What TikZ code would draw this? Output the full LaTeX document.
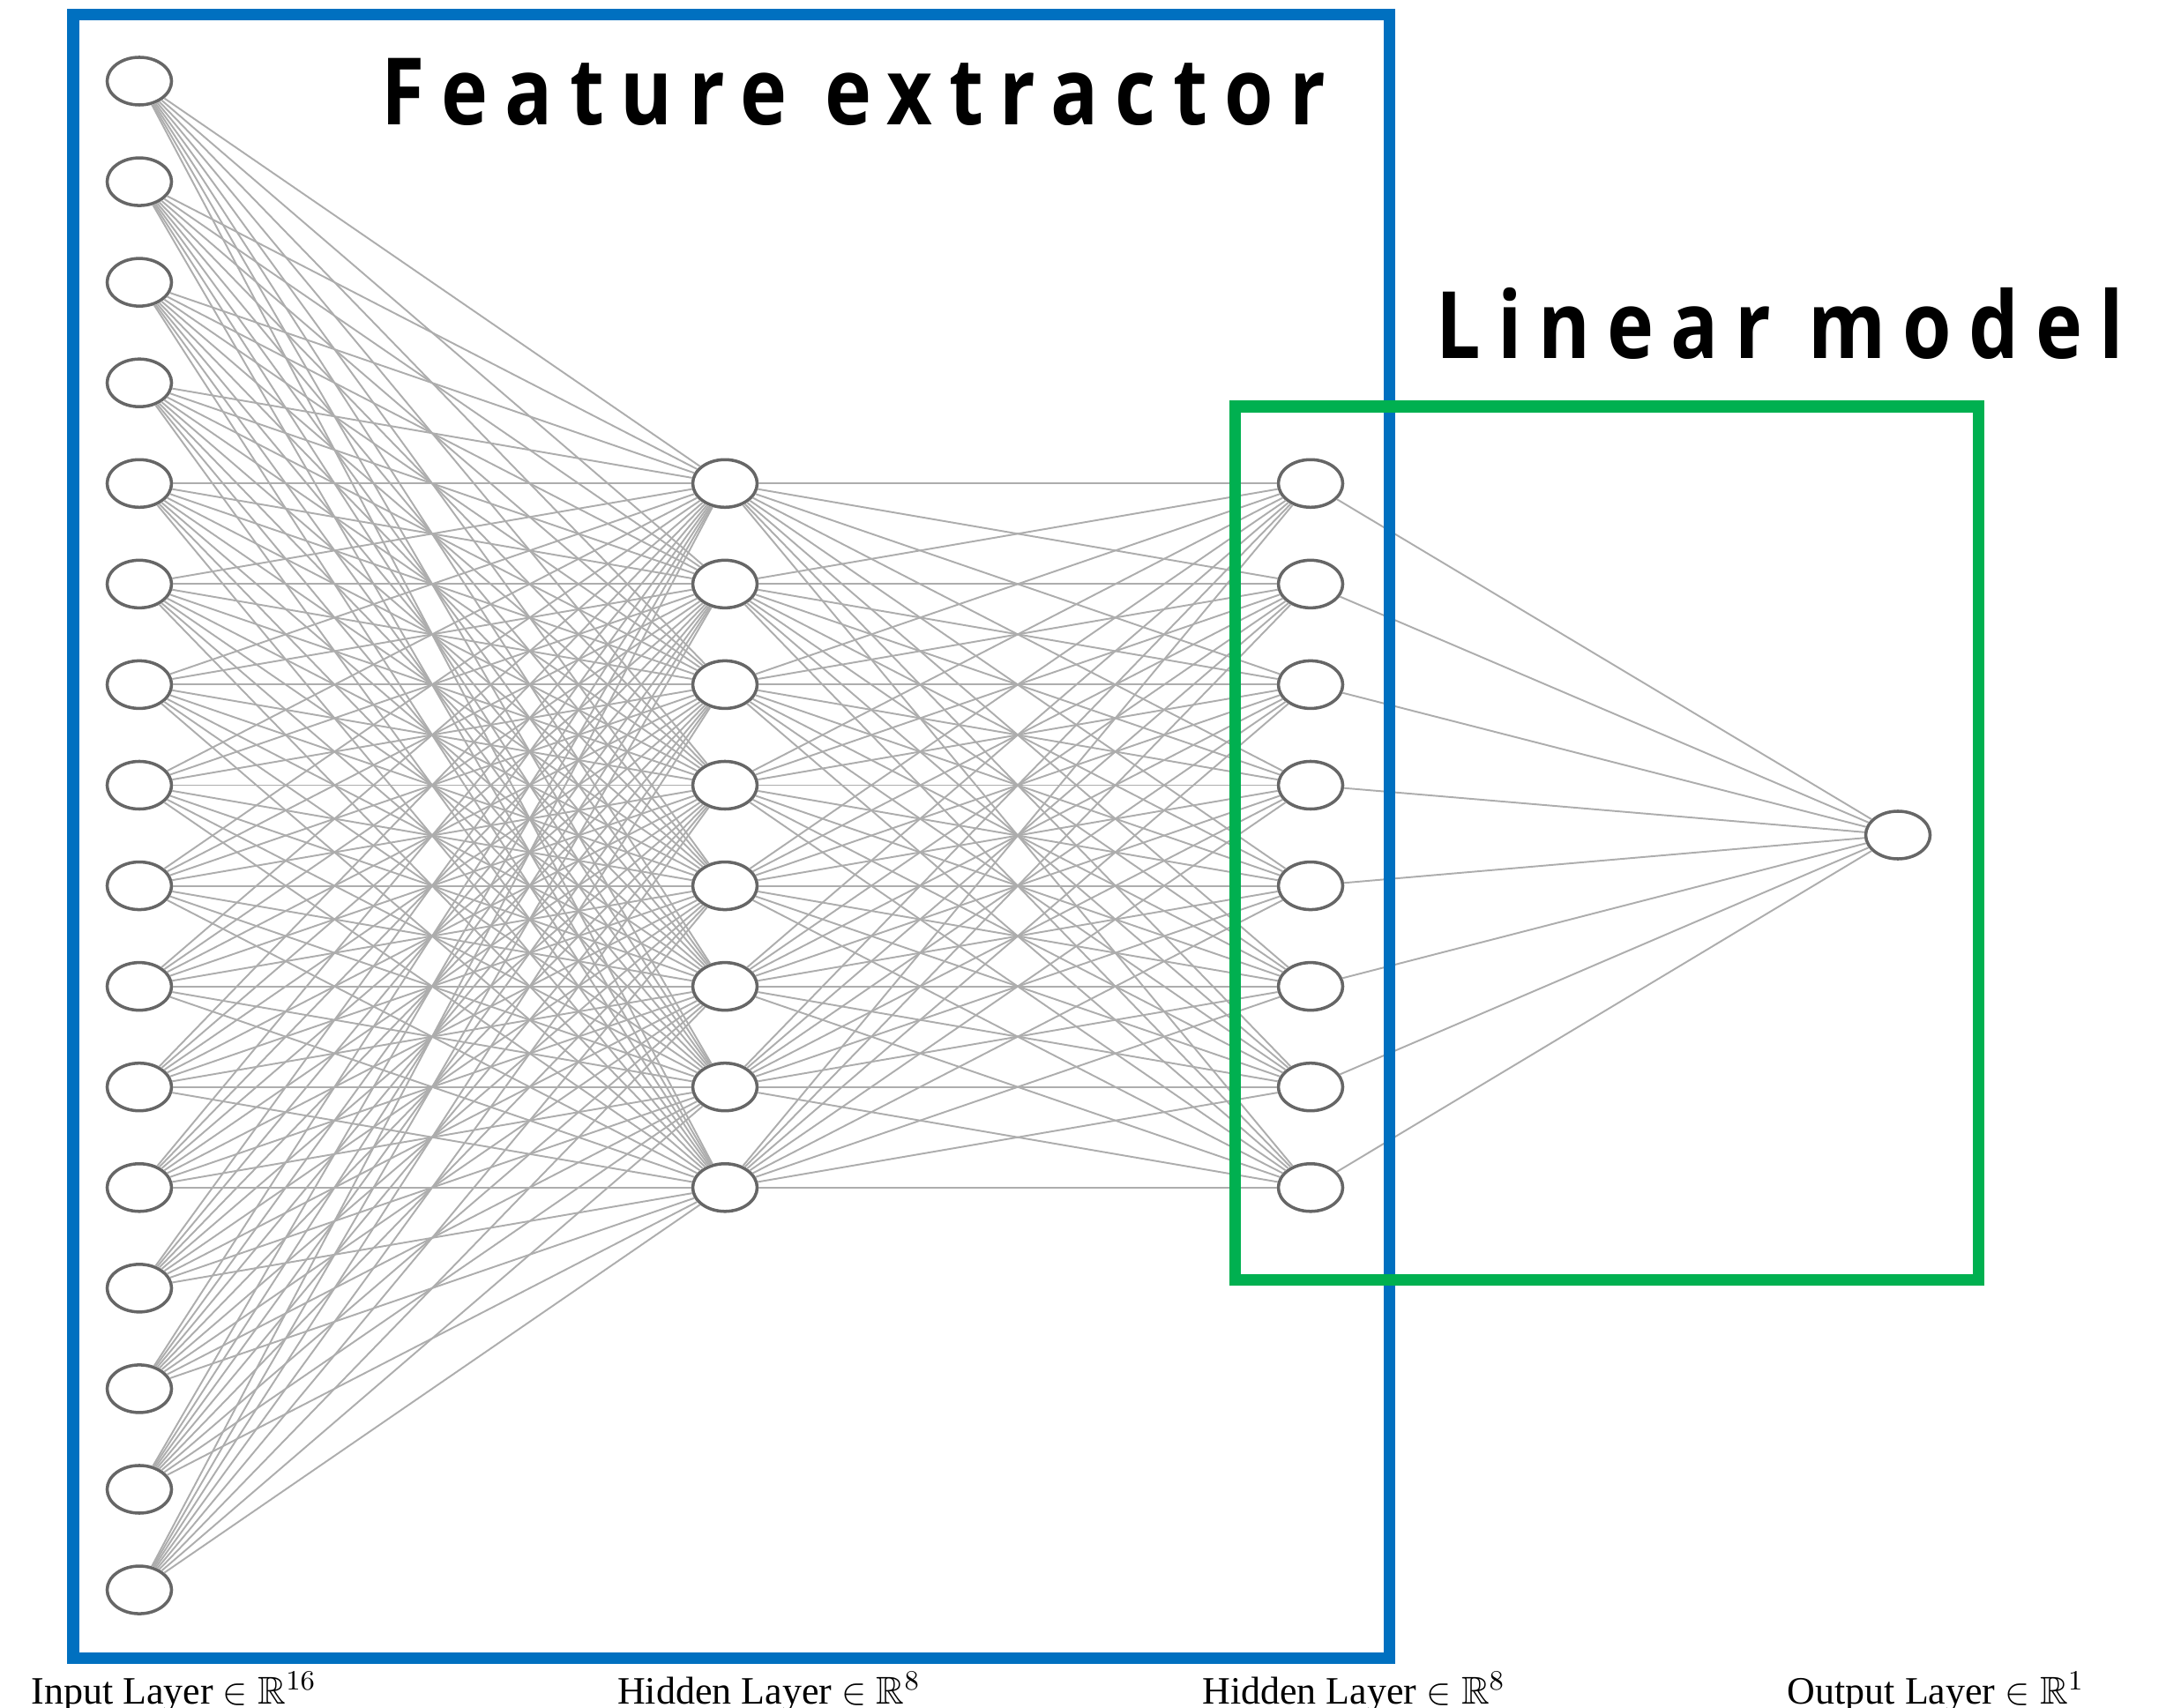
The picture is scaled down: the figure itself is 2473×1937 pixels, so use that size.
\documentclass[tikz,border=0pt]{standalone}
\usepackage{amsmath,amssymb}
\usepackage{fontspec}
\setmainfont{Liberation Serif}
\newfontfamily\titlefont[LetterSpace=18, FakeStretch=0.85]{Open Sans}
\usepackage{xcolor}
\usepackage{tikz}
\usetikzlibrary{shapes.geometric}

\definecolor{featblue}{HTML}{0070C0}
\definecolor{lingreen}{HTML}{00B050}

\tikzset{
  neuron/.style={draw=black!60, line width=1pt, ellipse, fill=white,
    minimum width=0.73cm, minimum height=0.54cm, inner sep=0pt},
  synapse/.style={draw=black!32, line width=0.55pt},
  layerlabel/.style={anchor=base, inner sep=0pt, font=\fontsize{12.5}{14}\selectfont},
  boxtitle/.style={anchor=base west, inner sep=0pt,
    font=\titlefont\bfseries\fontsize{30}{36}\selectfont},
  regionbox/.style={line width=0.13cm}
}

\begin{document}
\begin{tikzpicture}[x=0.01cm, y=-0.01cm]
        \useasboundingbox (0,0) rectangle (2473,1937);

        % Input layer
        \foreach \k in {1,...,16}
          \node[neuron] (in\k) at (158,{92+114.07*(\k-1)}) {};

        % Hidden layers
        \foreach \k in {1,...,8} {
          \node[neuron] (ha\k) at (822,{92+114.07*(\k+3)}) {};
          \node[neuron] (hb\k) at (1486,{92+114.07*(\k+3)}) {};
        }

        % Output layer
        \node[neuron] (out) at (2152,947) {};

        % Connections
        \foreach \i in {1,...,16}
          \foreach \j in {1,...,8}
            \draw[synapse] (in\i) -- (ha\j);
        \foreach \i in {1,...,8}
          \foreach \j in {1,...,8}
            \draw[synapse] (ha\i) -- (hb\j);
        \foreach \i in {1,...,8}
          \draw[synapse] (hb\i) -- (out);

        % Boxes
        \draw[regionbox, featblue] (83,17) rectangle (1575,1880);
        \draw[regionbox, lingreen] (1400,461) rectangle (2243,1451);

        % Titles
        \node[boxtitle] (fetitle) at (432,142) {Feature extractor};
        \node[boxtitle] (lmtitle) at (1628,407) {Linear model};

        % Layer labels
        \node[layerlabel] (inlabel) at (197,1932) {Input Layer $\in \mathbb{R}^{16}$};
        \node[layerlabel] (halabel) at (872,1932) {Hidden Layer $\in \mathbb{R}^{8}$};
        \node[layerlabel] (hblabel) at (1535,1932) {Hidden Layer $\in \mathbb{R}^{8}$};
        \node[layerlabel] (outlabel) at (2195,1932) {Output Layer $\in \mathbb{R}^{1}$};
\end{tikzpicture}
\end{document}
